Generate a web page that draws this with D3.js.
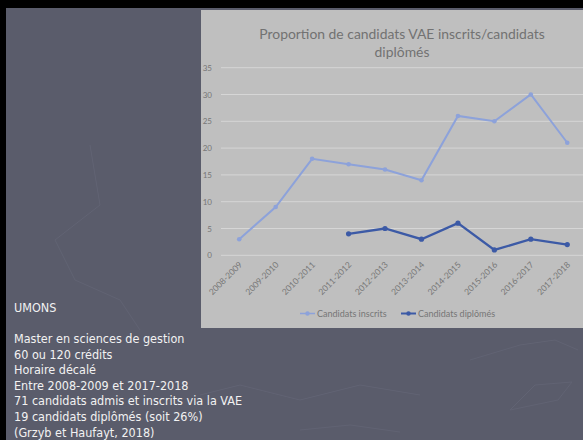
<!DOCTYPE html>
<html><head><meta charset="utf-8">
<script src="https://cdn.jsdelivr.net/npm/d3@7/dist/d3.min.js"></script>
<style>html,body{margin:0;padding:0;background:#000;}svg{display:block;}</style>
</head><body>
<svg id="c" width="583" height="440"></svg>
<script>
const categories = ["2008-2009","2009-2010","2010-2011","2011-2012","2012-2013","2013-2014","2014-2015","2015-2016","2016-2017","2017-2018"];
const inscrits = [3, 9, 18, 17, 16, 14, 26, 25, 30, 21];
const diplomes = [null, null, null, 4, 5, 3, 6, 1, 3, 2];
const yTicks = [0, 5, 10, 15, 20, 25, 30, 35];
const seriesNames = ["Candidats inscrits", "Candidats diplômés"];
const titleLines = ["Proportion de candidats VAE inscrits/candidats", "diplômés"];
const sideText = ["Master en sciences de gestion","60 ou 120 crédits","Horaire décalé","Entre 2008-2009 et 2017-2018","71 candidats admis et inscrits via la VAE","19 candidats diplômés (soit 26%)","(Grzyb et Haufayt, 2018)"];

const svg = d3.select("#c");
svg.append("rect").attr("width",583).attr("height",440).attr("fill","#000");
svg.append("rect").attr("x",6).attr("y",8).attr("width",577).attr("height",432).attr("fill","#5a5c6b");

// faint decorative lines
const deco = svg.append("g").attr("fill","none").attr("stroke","#616373").attr("stroke-width",1);
deco.append("path").attr("d","M90,145 L100,205 L55,240 L75,280 L120,300 L140,330");
deco.append("path").attr("d","M215,150 L265,140 L315,150 L290,185 L250,190 L210,175 Z");
deco.append("path").attr("d","M470,360 L520,345 L555,340 L578,350");
deco.append("path").attr("d","M510,410 L535,385 L572,382 L558,400 Z");
deco.append("path").attr("d","M200,395 L240,385 L300,400 L360,385 L420,395");
deco.append("path").attr("d","M300,430 L350,425 L400,432");

// chart panel
svg.append("rect").attr("x",201).attr("y",10).attr("width",382).attr("height",318).attr("fill","#bfbfbf");

const x = d3.scalePoint().domain(categories).range([221, 585.5]).padding(0.5);
const y = d3.scaleLinear().domain([0,35]).range([255.3, 67.7]);

const grid = svg.append("g");
grid.selectAll("line").data(yTicks).join("line")
  .attr("x1",221).attr("x2",583).attr("y1",d=>y(d)).attr("y2",d=>y(d))
  .attr("stroke","#d6d6d6").attr("stroke-width",1);

const yAxis = svg.append("g").attr("transform","translate(218,0)")
  .call(d3.axisLeft(y).tickValues(yTicks).tickSize(0).tickPadding(6));
yAxis.select(".domain").remove();
yAxis.selectAll("text").attr("fill","#767676").style("font-family","Lato, sans-serif").style("font-size","8px");

const xAxis = svg.append("g").attr("transform","translate(0,"+y(0)+")")
  .call(d3.axisBottom(x).tickSize(0).tickPadding(0));
xAxis.select(".domain").remove();
xAxis.selectAll("text").attr("fill","#767676").style("font-family","Lato, sans-serif").style("font-size","8.5px")
  .attr("text-anchor","end").attr("dy",null).attr("y",null)
  .attr("transform","translate(3,10) rotate(-45)");

// title
svg.append("g").selectAll("text").data(titleLines).join("text")
  .attr("x",402).attr("y",(d,i)=>39+i*18).attr("text-anchor","middle")
  .attr("fill","#727272").style("font-family","Lato, sans-serif").style("font-size","13.9px").text(d=>d);

const line = d3.line().defined(d=>d.v!=null).x(d=>x(d.c)).y(d=>y(d.v));
const s1 = categories.map((c,i)=>({c, v:inscrits[i]}));
const s2 = categories.map((c,i)=>({c, v:diplomes[i]}));
const col1 = "#8da2da", col2 = "#3c5aa6";
svg.append("path").datum(s1).attr("d",line).attr("fill","none").attr("stroke",col1).attr("stroke-width",2);
svg.append("g").selectAll("circle").data(s1).join("circle").attr("cx",d=>x(d.c)).attr("cy",d=>y(d.v)).attr("r",2.3).attr("fill",col1);
svg.append("path").datum(s2).attr("d",line).attr("fill","none").attr("stroke",col2).attr("stroke-width",2.3);
svg.append("g").selectAll("circle").data(s2.filter(d=>d.v!=null)).join("circle").attr("cx",d=>x(d.c)).attr("cy",d=>y(d.v)).attr("r",2.6).attr("fill",col2);

// legend
const legend = svg.append("g");
const lx = [300, 401];
seriesNames.forEach((n,i)=>{
  const g = legend.append("g").attr("transform","translate("+lx[i]+",313.5)");
  const c = i===0?col1:col2;
  g.append("line").attr("x1",0).attr("x2",15).attr("stroke",c).attr("stroke-width",i===0?1.5:2);
  g.append("circle").attr("cx",7.5).attr("r",2.2).attr("fill",c);
  g.append("text").attr("x",17).attr("dy","0.35em").attr("fill","#767676")
    .style("font-family","Lato, sans-serif").style("font-size","9px").text(n);
});

// side text
const side = svg.append("g").style("font-family","'DejaVu Sans Condensed', 'DejaVu Sans', sans-serif").style("font-size","12.5px").attr("fill","#f2f2f2");
side.append("text").attr("x",14).attr("y",312).text("UMONS");
side.selectAll("text.l").data(sideText).join("text").attr("class","l")
  .attr("x",14).attr("y",(d,i)=>343+i*15.6).text(d=>d);
</script>
</body></html>
